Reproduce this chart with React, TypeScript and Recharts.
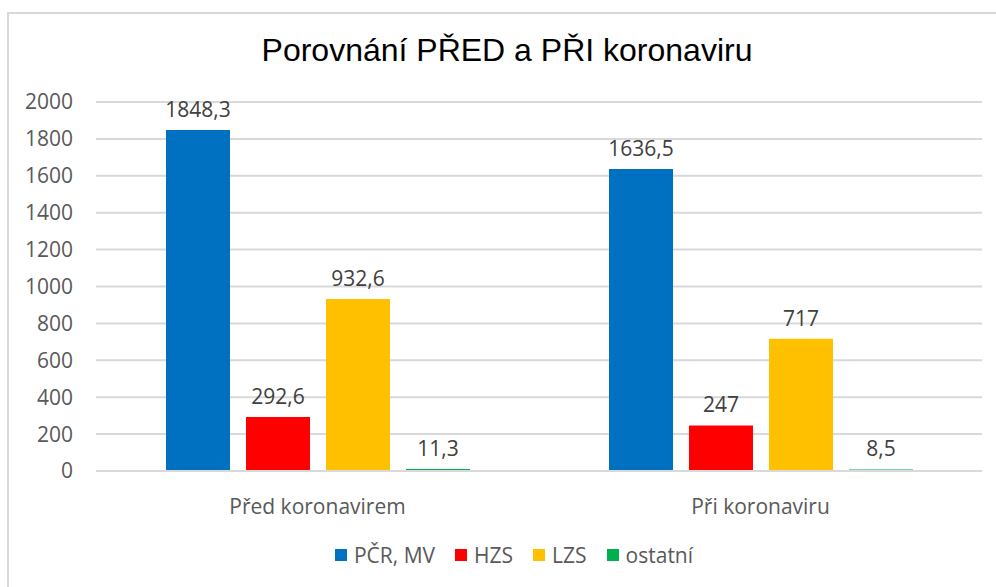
import { BarChart, Bar, XAxis, YAxis, CartesianGrid, LabelList, Legend } from 'recharts';

const categories = ['Před koronavirem', 'Při koronaviru'];
const seriesNames = ['PČR, MV', 'HZS', 'LZS', 'ostatní'];
const seriesColors = ['#0070C0', '#FF0000', '#FFC000', '#00B050'];
const pcrValues = [1848.3, 1636.5];
const hzsValues = [292.6, 247];
const lzsValues = [932.6, 717];
const ostatniValues = [11.3, 8.5];
const yTicks = [0, 200, 400, 600, 800, 1000, 1200, 1400, 1600, 1800, 2000];

const seriesValues = [pcrValues, hzsValues, lzsValues, ostatniValues];
const keys = ['s0', 's1', 's2', 's3'];

const data = categories.map((name, i) => {
    const row: any = { name };
    keys.forEach((k, j) => { row[k] = seriesValues[j][i]; });
    return row;
});

const font = '"Open Sans", sans-serif';
const fmt = (v: any) => String(v).replace('.', ',');

function LegendBox() {
    return (
        <div style={{ display: 'flex', justifyContent: 'center', alignItems: 'center', fontFamily: font, fontSize: 21, color: '#595959', paddingLeft: 46 }}>
            {seriesNames.map((n, i) => (
                <div key={n} style={{ display: 'flex', alignItems: 'center', marginRight: i < seriesNames.length - 1 ? 20 : 0 }}>
                    <span style={{ width: 12, height: 12, background: seriesColors[i], marginRight: 7, display: 'inline-block' }} />
                    <span>{n}</span>
                </div>
            ))}
        </div>
    );
}

export default function App() {
    return (
        <div style={{ position: 'absolute', left: 0, top: 0, width: 996, height: 587, overflow: 'hidden', background: '#fff' }}>
            <div style={{ position: 'absolute', left: 7, top: 12, width: 1100, height: 700, borderLeft: '2px solid #d9d9d9', borderTop: '2px solid #d9d9d9' }} />
            <div style={{ position: 'absolute', left: 0, top: 32, width: 1014, textAlign: 'center', fontFamily: '"Liberation Sans", Arial, sans-serif', fontSize: 32, color: '#000' }}>
                Porovnání PŘED a PŘI koronaviru
            </div>
            <div style={{ position: 'absolute', left: 0, top: 0 }}>
                <BarChart width={996} height={587} data={data} margin={{ top: 102, right: 14, bottom: 0, left: 0 }} barSize={64} barGap={16}>
                    <CartesianGrid vertical={false} stroke="#d9d9d9" strokeWidth={2} />
                    <XAxis dataKey="name" axisLine={{ stroke: '#d9d9d9', strokeWidth: 2 }} tickLine={false} tickMargin={22} height={44}
                        tick={{ fontFamily: font, fontSize: 21, fill: '#595959' }} />
                    <YAxis domain={[0, 2000]} ticks={yTicks} axisLine={false} tickLine={false} tickMargin={17} width={96}
                        tick={{ fontFamily: font, fontSize: 21, fill: '#595959' }} />
                    <Legend verticalAlign="bottom" height={72} content={() => <div style={{ paddingTop: 26 }}><LegendBox /></div>} />
                    {keys.map((k, j) => (
                        <Bar key={k} dataKey={k} name={seriesNames[j]} fill={seriesColors[j]} isAnimationActive={false}>
                            <LabelList dataKey={k} position="top" offset={13} formatter={fmt}
                                style={{ fontFamily: font, fontSize: 21, fill: '#404040' }} />
                        </Bar>
                    ))}
                </BarChart>
            </div>
        </div>
    );
}
